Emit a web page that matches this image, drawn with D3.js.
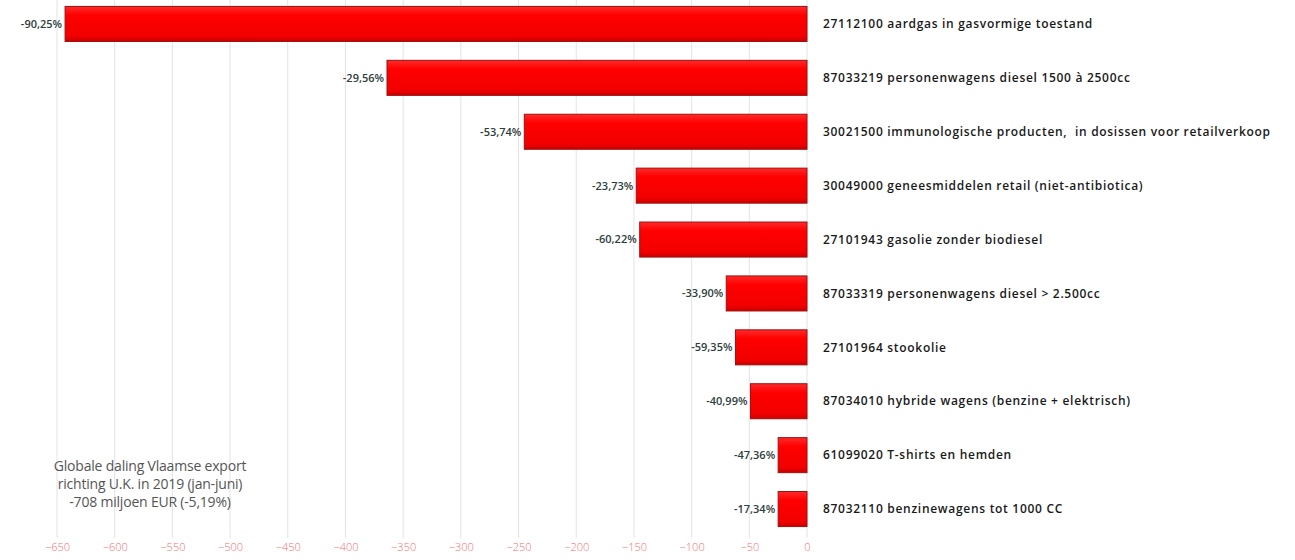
<!DOCTYPE html>
<html><head><meta charset="utf-8">
<script src="https://cdn.jsdelivr.net/npm/d3@7/dist/d3.min.js"></script>
<style>
html,body{margin:0;padding:0;background:#fff;}
svg{display:block;}
</style></head>
<body>
<svg id="chart" width="1295" height="560"></svg>
<script>
const categories = [
  "27112100 aardgas in gasvormige toestand",
  "87033219 personenwagens diesel 1500 à 2500cc",
  "30021500 immunologische producten,  in dosissen voor retailverkoop",
  "30049000 geneesmiddelen retail (niet-antibiotica)",
  "27101943 gasolie zonder biodiesel",
  "87033319 personenwagens diesel > 2.500cc",
  "27101964 stookolie",
  "87034010 hybride wagens (benzine + elektrisch)",
  "61099020 T-shirts en hemden",
  "87032110 benzinewagens tot 1000 CC"
];
const values = [-643, -364, -245, -148, -145, -70, -62, -49, -25, -25];
const pctLabels = ["-90,25%","-29,56%","-53,74%","-23,73%","-60,22%","-33,90%","-59,35%","-40,99%","-47,36%","-17,34%"];
const tickValues = [-650,-600,-550,-500,-450,-400,-350,-300,-250,-200,-150,-100,-50,0];
const note = ["Globale daling Vlaamse export","richting U.K. in 2019 (jan-juni)","-708 miljoen EUR (-5,19%)"];

const svg = d3.select("#chart");
const x = d3.scaleLinear().domain([-650, 0]).range([57, 807]);
const y = d3.scaleBand().domain(categories).range([-3, 536]).paddingInner(0.35).paddingOuter(0.175);

const defs = svg.append("defs");
const g = defs.append("linearGradient").attr("id","barGrad").attr("x1",0).attr("y1",0).attr("x2",0).attr("y2",1);
g.append("stop").attr("offset","0%").attr("stop-color","#ff2a2a");
g.append("stop").attr("offset","25%").attr("stop-color","#ff0000");
g.append("stop").attr("offset","85%").attr("stop-color","#f20000");
g.append("stop").attr("offset","100%").attr("stop-color","#c80000");

// gridlines
svg.append("g").selectAll("line").data(tickValues).join("line")
  .attr("x1", d => x(d)).attr("x2", d => x(d))
  .attr("y1", 0).attr("y2", 538)
  .attr("stroke", "#e3e3e3").attr("stroke-width", 1);

// axis
const axis = d3.axisBottom(x).tickValues(tickValues).tickSize(0).tickPadding(0).tickFormat(d => d === 0 ? "0" : d3.format("d")(d));
const ag = svg.append("g").attr("transform","translate(0,543)").call(axis);
ag.select(".domain").remove();
ag.selectAll("text").attr("fill","#f07070").style("font-family","'Open Sans', sans-serif").style("font-size","11px").style("font-weight","300");

// bars
svg.append("g").selectAll("rect").data(values).join("rect")
  .attr("x", d => x(d))
  .attr("y", (d,i) => y(categories[i]))
  .attr("width", d => x(0) - x(d))
  .attr("height", y.bandwidth())
  .attr("fill", "url(#barGrad)")
  .attr("stroke", "#9e1010").attr("stroke-width", 1);

// value labels
svg.append("g").selectAll("text").data(values).join("text")
  .attr("x", d => x(d) - 3)
  .attr("y", (d,i) => y(categories[i]) + y.bandwidth()/2)
  .attr("dy","0.35em")
  .attr("text-anchor","end")
  .attr("fill","#2e3d3d")
  .style("font-family","'Open Sans', sans-serif").style("font-size","11px").style("font-weight","600")
  .text((d,i) => pctLabels[i]);

// category labels
svg.append("g").selectAll("text").data(categories).join("text")
  .attr("x", x(0) + 16)
  .attr("y", d => y(d) + y.bandwidth()/2)
  .attr("dy","0.35em")
  .attr("fill","#1a1a1a")
  .style("white-space","pre")
  .style("font-family","'Open Sans', sans-serif").style("font-size","12px").style("font-weight","600").style("letter-spacing","0.7px")
  .text(d => d);

// note
svg.append("g").selectAll("text").data(note).join("text")
  .attr("x", 150)
  .attr("y", (d,i) => 471 + i*18)
  .attr("text-anchor","middle")
  .attr("fill","#555")
  .style("font-family","'Open Sans', sans-serif").style("font-size","14px").style("letter-spacing","-0.2px")
  .text(d => d);
</script>
</body></html>
